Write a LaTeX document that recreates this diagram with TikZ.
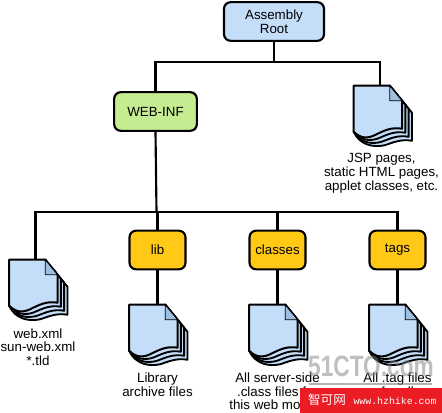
\documentclass[tikz,border=0pt]{standalone}
\usepackage{fontspec}
\setmainfont{Liberation Sans}
\newfontfamily\cjkfont{Noto Sans CJK SC}
\newfontfamily\bannerfont{Liberation Mono}
\definecolor{rootblue}{HTML}{C4DDF9}
\definecolor{infgreen}{HTML}{C6EC92}
\definecolor{diryellow}{HTML}{FFC916}
\definecolor{foldblue}{HTML}{9DBFE2}
\definecolor{bannerred}{HTML}{EC1C24}
\tikzset{
  treebox/.style={draw,line width=1.6pt,rounded corners=5pt,align=center,minimum height=29pt,inner sep=0pt},
  dirbox/.style={treebox,fill=diryellow,minimum width=42pt},
  docnode/.style={minimum width=42pt,minimum height=46.5pt,inner sep=0pt},
  doctext/.style={anchor=north,align=center,inner sep=2pt,yshift=-2pt},
  treeline/.style={line width=1.6pt},
  pics/docicon/.style={code={
    % sheets behind first, all meeting at the lower left corner
    \foreach \k in {3,2,1}{
      \filldraw[fill=rootblue,line width=1.4pt,line join=round]
        (36,0) -- (48.3+3.3*\k,15+4*\k) -- (48.3+3.3*\k,43+4*\k)
        .. controls (38+3*\k,41+4*\k) and (30+3*\k,45+4*\k) .. (22+3*\k,49+3.5*\k)
        .. controls (14+2*\k,53+3*\k) and (6,52+2.5*\k) .. (0,46) -- cycle;
    }
    \filldraw[fill=rootblue,line width=1.5pt,line join=round]
      (0,0) -- (36,0) -- (48.3,15) -- (48.3,43)
      .. controls (38,41) and (30,45) .. (22,49)
      .. controls (14,53) and (7,53) .. (0,46) -- cycle;
    \filldraw[fill=foldblue,line width=.6pt,line join=round] (36,0) -- (36,15) -- (48.3,15) -- cycle;
  }}
}
\begin{document}
\begin{tikzpicture}[x=.75pt,y=-.75pt,node distance=90pt,font=\fontsize{10}{10.3}\selectfont]
\useasboundingbox (0,0) rectangle (442,413);

\node[treebox,fill=rootblue,minimum width=75pt] (root) at (274,21.5) {Assembly\\Root};
\node[treebox,fill=infgreen,minimum width=62pt] (webinf) at (155.5,111.5) {WEB-INF};
\node[docnode] (jspdoc) at (380,117) {};
\node[doctext] (jsptext) at (381.5,148) {JSP pages,\\static HTML pages,\\applet classes, etc.};

\node[dirbox] (lib) at (157.5,250) {lib};
\node[dirbox,right of=lib] (classes) {classes};
\node[dirbox,right of=classes] (tags) {tags};

\node[docnode] (webdoc) at (35.5,291) {};
\node[docnode,below of=lib,node distance=64.5pt] (libdoc) {};
\node[docnode,below of=classes,node distance=64.5pt] (classesdoc) {};
\node[docnode,below of=tags,node distance=64.5pt] (tagsdoc) {};

\node[doctext] (webtext) at (38,323) {web.xml\\sun-web.xml\\*.tld};
\node[doctext] (libtext) at (libdoc.south) {Library\\archive files};
\node[doctext] (classestext) at (classesdoc.south) {All server-side\\.class files for\\this web module};
\node[doctext] (tagstext) at (tagsdoc.south) {All .tag files\\for all};

\pic[xshift=1.5pt] at (jspdoc.north west) {docicon};
\pic[xshift=1.5pt] at (webdoc.north west) {docicon};
\pic at (libdoc.north west) {docicon};
\pic at (classesdoc.north west) {docicon};
\pic at (tagsdoc.north west) {docicon};

\coordinate (rootbus) at (274,62);
\coordinate (infbus) at (156.5,212);

\draw[treeline] (root) -- (rootbus);
\draw[treeline] (webinf.north) |- (rootbus) -| (jspdoc.north);
\draw[treeline] (webinf.south) -- (infbus);
\draw[treeline] (webdoc.north) |- (infbus) -| (tags.north);
\draw[treeline] (lib.north) -- (lib.north |- infbus);
\draw[treeline] (classes.north) -- (classes.north |- infbus);
\draw[treeline] (lib) -- (libdoc);
\draw[treeline] (classes) -- (classesdoc);
\draw[treeline] (tags) -- (tagsdoc);

\node[opacity=.5,text=gray,font=\fontsize{17}{17}\bfseries\selectfont,inner sep=0pt,yscale=1.3] (watermark) at (371,366) {51CTO.com};
\coordinate (markleft) at (309,384);
\coordinate (markright) at (432,384);
\draw[gray,opacity=.6,line width=.8pt] (markleft) -- (markright);

\node[fill=bannerred,minimum width=106.5pt,minimum height=19pt,inner sep=0pt] (banner) at (371,400.5) {};
\node[text=white,font=\cjkfont\fontsize{9.4}{10}\selectfont,inner sep=0pt] (bannername) at (327,400) {智可网};
\node[text=white,font=\bannerfont\fontsize{7.4}{8}\selectfont,inner sep=0pt] (bannerurl) at (395,400.5) {www.hzhike.com};

\end{tikzpicture}
\end{document}
